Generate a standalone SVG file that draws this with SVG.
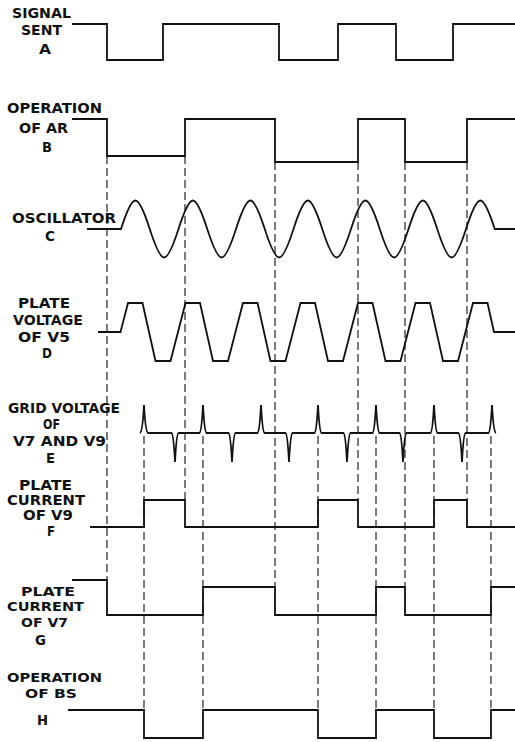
<svg xmlns="http://www.w3.org/2000/svg" width="515" height="742" viewBox="0 0 515 742">
<style>
.w{fill:none;stroke:#111;stroke-width:1.8;stroke-linejoin:miter}
.d{fill:none;stroke:#111;stroke-width:1.1;stroke-dasharray:8 4}
text{font-family:"DejaVu Sans","Liberation Sans",sans-serif;font-weight:bold;font-size:13.5px;fill:#111}
.s{font-size:13px}
</style>
<rect width="515" height="742" fill="#fff"/>
<g id="connectors">
<line class="d" x1="107" y1="156" x2="107" y2="580"/>
<line class="d" x1="185" y1="156" x2="185" y2="500"/>
<line class="d" x1="275" y1="162" x2="275" y2="587"/>
<line class="d" x1="358" y1="162" x2="358" y2="500"/>
<line class="d" x1="405" y1="162" x2="405" y2="587"/>
<line class="d" x1="467" y1="162" x2="467" y2="500"/>
<line class="d" x1="144" y1="436" x2="144" y2="710"/>
<line class="d" x1="203" y1="436" x2="203" y2="710"/>
<line class="d" x1="318" y1="436" x2="318" y2="710"/>
<line class="d" x1="376" y1="436" x2="376" y2="710"/>
<line class="d" x1="434" y1="436" x2="434" y2="710"/>
<line class="d" x1="491" y1="436" x2="491" y2="710"/>
</g>
<g id="A">
<text x="12" y="18" textLength="59" lengthAdjust="spacingAndGlyphs">SIGNAL</text>
<text x="21" y="35" textLength="41" lengthAdjust="spacingAndGlyphs">SENT</text>
<text x="39" y="54" textLength="12" lengthAdjust="spacingAndGlyphs">A</text>
<path class="w" d="M72,24 H107 V60 H163 V24 H279 V60 H338 V24 H396 V60 H453 V24 H515"/>
</g>
<g id="B">
<text x="7" y="113" textLength="95" lengthAdjust="spacingAndGlyphs">OPERATION</text>
<text x="19" y="133" textLength="49" lengthAdjust="spacingAndGlyphs">OF AR</text>
<text x="42" y="152" textLength="10" lengthAdjust="spacingAndGlyphs">B</text>
<path class="w" d="M72,119 H107 V156 H185 V119 H275 V162 H358 V119 H405 V162 H467 V119 H515"/>
</g>
<g id="C">
<text x="12" y="223" textLength="104" lengthAdjust="spacingAndGlyphs">OSCILLATOR</text>
<text x="45" y="241" textLength="10" lengthAdjust="spacingAndGlyphs">C</text>
<path class="w" d="M87,229 H119 Q120,229 121,229
c4.687,-14.6 9.799,-28.5 14.375,-28.5 c4.576,0 9.688,13.9 14.375,28.5 c4.687,14.6 9.799,28.5 14.375,28.5 c4.576,0 9.688,-13.9 14.375,-28.5
c4.687,-14.6 9.799,-28.5 14.375,-28.5 c4.576,0 9.688,13.9 14.375,28.5 c4.687,14.6 9.799,28.5 14.375,28.5 c4.576,0 9.688,-13.9 14.375,-28.5
c4.687,-14.6 9.799,-28.5 14.375,-28.5 c4.576,0 9.688,13.9 14.375,28.5 c4.687,14.6 9.799,28.5 14.375,28.5 c4.576,0 9.688,-13.9 14.375,-28.5
c4.687,-14.6 9.799,-28.5 14.375,-28.5 c4.576,0 9.688,13.9 14.375,28.5 c4.687,14.6 9.799,28.5 14.375,28.5 c4.576,0 9.688,-13.9 14.375,-28.5
c4.687,-14.6 9.799,-28.5 14.375,-28.5 c4.576,0 9.688,13.9 14.375,28.5 c4.687,14.6 9.799,28.5 14.375,28.5 c4.576,0 9.688,-13.9 14.375,-28.5
c4.687,-14.6 9.799,-28.5 14.375,-28.5 c4.576,0 9.688,13.9 14.375,28.5 c4.687,14.6 9.799,28.5 14.375,28.5 c4.576,0 9.688,-13.9 14.375,-28.5
c4.687,-14.6 9.799,-28.5 14.375,-28.5 c4.576,0 9.688,13.9 14.375,28.5 H515"/>
</g>
<g id="D">
<text x="18" y="308" textLength="52" lengthAdjust="spacingAndGlyphs">PLATE</text>
<text x="13" y="325" textLength="70" lengthAdjust="spacingAndGlyphs">VOLTAGE</text>
<text x="18" y="342" textLength="52" lengthAdjust="spacingAndGlyphs">OF V5</text>
<text x="42" y="358" textLength="10" lengthAdjust="spacingAndGlyphs">D</text>
<path class="w" d="M98,332 H120.5 L128,303 H142.5 L155.5,361 H170.5 L185.5,303 H200 L213,361 H228 L243,303 H257.5 L270.5,361 H285.5 L300.5,303 H315 L328,361 H343 L358,303 H372.5 L385.5,361 H400.5 L415.5,303 H430 L443,361 H458 L473,303 H487.5 L494,332 H515"/>
</g>
<g id="E">
<text x="8" y="413" textLength="112" lengthAdjust="spacingAndGlyphs">GRID VOLTAGE</text>
<text x="43" y="429" textLength="17" lengthAdjust="spacingAndGlyphs">OF</text>
<text x="13" y="446" textLength="93" lengthAdjust="spacingAndGlyphs">V7 AND V9</text>
<text x="46" y="463" textLength="9" lengthAdjust="spacingAndGlyphs">E</text>
<path class="w" stroke-width="1.5" d="M140,433 Q142.5,432 144,405 Q145.5,432 148,433
L171.5,433 Q173.5,434 175,462 Q176.5,434 178.5,433
L199.5,433 Q201.5,432 203,405 Q204.5,432 206.5,433
L228.5,433 Q230.5,434 232,462 Q233.5,434 235.5,433
L257.5,433 Q259.5,432 261,405 Q262.5,432 264.5,433
L285.5,433 Q287.5,434 289,462 Q290.5,434 292.5,433
L314.5,433 Q316.5,432 318,405 Q319.5,432 321.5,433
L343.5,433 Q345.5,434 347,462 Q348.5,434 350.5,433
L372.5,433 Q374.5,432 376,405 Q377.5,432 379.5,433
L399.5,433 Q401.5,434 403,462 Q404.5,434 406.5,433
L430.5,433 Q432.5,432 434,405 Q435.5,432 437.5,433
L458.5,433 Q460.5,434 462,462 Q463.5,434 465.5,433
L488.5,433 Q490.5,432 492,405 Q493.5,432 496,433"/>
</g>
<g id="F">
<text x="19" y="490" textLength="53" lengthAdjust="spacingAndGlyphs">PLATE</text>
<text x="7" y="505" textLength="78" lengthAdjust="spacingAndGlyphs">CURRENT</text>
<text x="23" y="520" textLength="50" lengthAdjust="spacingAndGlyphs">OF V9</text>
<text x="47" y="536" textLength="8" lengthAdjust="spacingAndGlyphs">F</text>
<path class="w" d="M90,527 H144 V500 H185 V527 H318 V500 H358 V527 H434 V500 H467 V527 H515"/>
</g>
<g id="G">
<text class="s" x="21" y="596" textLength="54" lengthAdjust="spacingAndGlyphs">PLATE</text>
<text class="s" x="7" y="611" textLength="77" lengthAdjust="spacingAndGlyphs">CURRENT</text>
<text class="s" x="21" y="627" textLength="47" lengthAdjust="spacingAndGlyphs">OF V7</text>
<text x="35" y="645" textLength="11" lengthAdjust="spacingAndGlyphs">G</text>
<path class="w" d="M72,580 H107 V615 H203 V587 H275 V615 H376 V587 H405 V615 H491 V587 H515"/>
</g>
<g id="H">
<text class="s" x="7" y="682" textLength="95" lengthAdjust="spacingAndGlyphs">OPERATION</text>
<text class="s" x="25" y="698" textLength="52" lengthAdjust="spacingAndGlyphs">OF BS</text>
<text x="37" y="725" textLength="11" lengthAdjust="spacingAndGlyphs">H</text>
<path class="w" d="M68,710 H144 V738 H203 V710 H318 V738 H376 V710 H434 V738 H491 V710 H515"/>
</g>
</svg>
